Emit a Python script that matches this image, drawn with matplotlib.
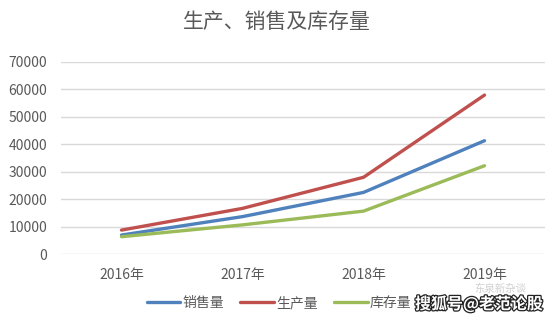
import matplotlib.pyplot as plt
import matplotlib.patheffects as pe
import numpy as np

plt.rcParams['font.family'] = ['Noto Sans CJK SC', 'DejaVu Sans']

# 年份与三条曲线
years = ['2016年', '2017年', '2018年', '2019年']
sales = [7000, 13700, 22500, 41300]        # 销售量
production = [8800, 16700, 28000, 57900]   # 生产量
inventory = [6400, 10700, 15700, 32200]    # 库存量

series_names = ['销售量', '生产量', '库存量']
colors = ['#4F81BD', '#C0504D', '#9BBB59']
text_color = '#595959'

fig = plt.figure(figsize=(5.54, 3.27), dpi=100)
ax = fig.add_axes([61 / 554, 1 - 254.3 / 327, 484 / 554, 192.5 / 327])

x = np.arange(len(years))
for vals, name, c in zip([sales, production, inventory], series_names, colors):
    ax.plot(x, vals, color=c, lw=2.4, label=name, solid_capstyle='round')

ax.set_xlim(-0.5, len(years) - 0.5)
ax.set_ylim(0, 70000)
ax.set_yticks(range(0, 70001, 10000))
ax.set_xticks(x)
ax.set_xticklabels(years)
ax.grid(axis='y', color='#d9d9d9', lw=1)
ax.set_axisbelow(True)
for s in ax.spines.values():
    s.set_visible(False)
ax.tick_params(length=0, colors=text_color, labelsize=10)
ax.tick_params(axis='x', pad=10)
ax.tick_params(axis='y', pad=10)

fig.text(0.5, 1 - 22 / 327, '生产、销售及库存量', ha='center', va='center',
         fontsize=15, color=text_color)

leg = fig.legend(loc='center', bbox_to_anchor=(279 / 554, 1 - 303 / 327),
                 ncol=3, frameon=False, fontsize=10, handlelength=2.4,
                 handletextpad=0.15, columnspacing=1.2)
for t in leg.get_texts():
    t.set_color(text_color)

# 水印
fig.text(500 / 554, 1 - 289 / 327, '东泉新杂谈', ha='center', va='center',
         fontsize=7.5, color='#d0d0d0')
fig.text(479 / 554, 1 - 304 / 327, '搜狐号@老范论股', ha='center', va='center',
         fontsize=11.5, color='white', fontweight='bold',
         path_effects=[pe.withStroke(linewidth=1.8, foreground='#222222')])

fig.savefig('out.png', dpi=100)
